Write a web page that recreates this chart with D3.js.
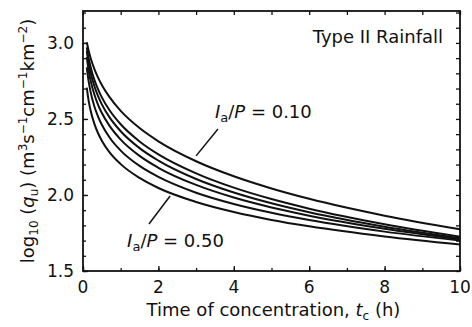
<!DOCTYPE html>
<html>
<head>
<meta charset="utf-8">
<script src="https://cdn.jsdelivr.net/npm/d3@7"></script>
<style>
  body { margin: 0; background: #fff; }
  svg text { font-family: "DejaVu Sans", sans-serif; fill: #111; }
</style>
</head>
<body>
<svg id="chart"></svg>
<script>
const width = 472;
const height = 327;

// time of concentration (h) where the curves were read
const tc = [0.1, 0.15, 0.2, 0.3, 0.4, 0.5, 0.7, 1, 1.5, 2, 3, 4, 5, 6, 8, 10];

// Ia/P ratios, one curve each (log10 qu)
const ratios = ["0.10", "0.30", "0.35", "0.40", "0.45", "0.50"];
const q010 = [3.004, 2.949, 2.903, 2.830, 2.772, 2.723, 2.645, 2.553, 2.440, 2.353, 2.222, 2.123, 2.043, 1.975, 1.864, 1.774];
const q030 = [2.971, 2.899, 2.844, 2.759, 2.695, 2.642, 2.559, 2.465, 2.352, 2.267, 2.142, 2.048, 1.973, 1.910, 1.808, 1.726];
const q035 = [2.947, 2.867, 2.806, 2.717, 2.650, 2.596, 2.512, 2.419, 2.308, 2.226, 2.105, 2.016, 1.945, 1.886, 1.791, 1.715];
const q040 = [2.907, 2.819, 2.755, 2.662, 2.593, 2.539, 2.456, 2.364, 2.257, 2.179, 2.066, 1.983, 1.918, 1.864, 1.778, 1.709];
const q045 = [2.840, 2.747, 2.680, 2.584, 2.516, 2.462, 2.380, 2.292, 2.191, 2.119, 2.015, 1.941, 1.883, 1.835, 1.759, 1.700];
const q050 = [2.706, 2.619, 2.557, 2.469, 2.406, 2.357, 2.282, 2.203, 2.112, 2.046, 1.954, 1.888, 1.836, 1.794, 1.727, 1.674];
const series = [q010, q030, q035, q040, q045, q050];

// tick labels
const xTicks = [0, 2, 4, 6, 8, 10];
const yTicks = [1.5, 2.0, 2.5, 3.0];

const margin = { top: 11, right: 12, bottom: 56, left: 83 };

const svg = d3.select("#chart").attr("width", width).attr("height", height);

const x = d3.scaleLinear().domain([0, 10]).range([margin.left, width - margin.right]);
const y = d3.scaleLinear().domain([1.5, 3.21]).range([height - margin.bottom, margin.top]);

const fs = 17;

// axes: ticks point inward
const xMinor = d3.range(0, 10.01, 1);
const yMinor = d3.range(1.5, 3.21, 0.1);

svg.append("g")
  .attr("transform", `translate(0,${y.range()[0]})`)
  .call(d3.axisTop(x).tickValues(xMinor).tickSize(3).tickFormat(""));
svg.append("g")
  .attr("transform", `translate(0,${y.range()[0]})`)
  .call(d3.axisTop(x).tickValues(xTicks).tickSize(5).tickFormat(""));
svg.append("g")
  .attr("transform", `translate(0,${y.range()[1]})`)
  .call(d3.axisBottom(x).tickValues(xMinor).tickSize(4).tickFormat(""));
svg.append("g")
  .attr("transform", `translate(${x.range()[0]},0)`)
  .call(d3.axisRight(y).tickValues(yMinor).tickSize(3).tickFormat(""));
svg.append("g")
  .attr("transform", `translate(${x.range()[0]},0)`)
  .call(d3.axisRight(y).tickValues(yTicks).tickSize(5).tickFormat(""));
svg.append("g")
  .attr("transform", `translate(${x.range()[1]},0)`)
  .call(d3.axisLeft(y).tickValues(yMinor).tickSize(4).tickFormat(""));

svg.selectAll(".domain").remove();
svg.selectAll(".tick line").attr("stroke", "#111").attr("stroke-width", 1.3);

// frame
svg.append("rect")
  .attr("x", x.range()[0])
  .attr("y", y.range()[1])
  .attr("width", x.range()[1] - x.range()[0])
  .attr("height", y.range()[0] - y.range()[1])
  .attr("fill", "none")
  .attr("stroke", "#111")
  .attr("stroke-width", 1.8);

// tick labels
svg.selectAll(".xlab").data(xTicks).join("text")
  .attr("x", d => x(d))
  .attr("y", y.range()[0] + 22)
  .attr("text-anchor", "middle")
  .attr("font-size", fs)
  .text(d => d);

svg.selectAll(".ylab").data(yTicks).join("text")
  .attr("x", x.range()[0] - 9)
  .attr("y", d => y(d) + 6)
  .attr("text-anchor", "end")
  .attr("font-size", fs)
  .text(d => d.toFixed(1));

// curves
const line = d3.line()
  .x((d, i) => x(tc[i]))
  .y(d => y(d))
  .curve(d3.curveMonotoneX);

svg.selectAll(".curve").data(series).join("path")
  .attr("d", line)
  .attr("fill", "none")
  .attr("stroke", "#111")
  .attr("stroke-width", 2);

// annotations
function ratioLabel(tx, ty, value) {
  const t = svg.append("text")
    .attr("x", x(tx))
    .attr("y", y(ty))
    .attr("font-size", 18);
  t.append("tspan").attr("font-style", "italic").text("I");
  t.append("tspan").attr("font-size", 13).attr("dy", 4).text("a");
  t.append("tspan").attr("dy", -4).text("/");
  t.append("tspan").attr("font-style", "italic").text("P");
  t.append("tspan").text(" = " + value);
}
ratioLabel(3.5, 2.507, ratios[0]);
ratioLabel(1.17, 1.658, ratios[5]);

const leaders = [
  [[3.58, 2.434], [3.0, 2.257]],
  [[1.75, 1.809], [2.31, 1.993]]
];
svg.selectAll(".leader").data(leaders).join("line")
  .attr("x1", d => x(d[0][0])).attr("y1", d => y(d[0][1]))
  .attr("x2", d => x(d[1][0])).attr("y2", d => y(d[1][1]))
  .attr("stroke", "#111")
  .attr("stroke-width", 1.5);

svg.append("text")
  .attr("x", x(9.55))
  .attr("y", y(3.0))
  .attr("text-anchor", "end")
  .attr("font-size", 18)
  .text("Type II Rainfall");

// axis titles
const xt = svg.append("text")
  .attr("x", (x.range()[0] + x.range()[1]) / 2 + 2)
  .attr("y", 316)
  .attr("text-anchor", "middle")
  .attr("font-size", 18);
xt.append("tspan").text("Time of concentration, ");
xt.append("tspan").attr("font-style", "italic").text("t");
xt.append("tspan").attr("font-size", 12).attr("dy", 4).text("c");
xt.append("tspan").attr("dy", -4).text(" (h)");

const yt = svg.append("text")
  .attr("transform", `translate(34,${(y.range()[0] + y.range()[1]) / 2}) rotate(-90)`)
  .attr("text-anchor", "middle")
  .attr("font-size", 18);
yt.append("tspan").text("log");
yt.append("tspan").attr("font-size", 12).attr("dy", 4).text("10");
yt.append("tspan").attr("dy", -4).text(" (");
yt.append("tspan").attr("font-style", "italic").text("q");
yt.append("tspan").attr("font-size", 12).attr("dy", 4).text("u");
yt.append("tspan").attr("dy", -4).text(") (m");
yt.append("tspan").attr("font-size", 12).attr("dy", -7).text("3");
yt.append("tspan").attr("dy", 7).text("s");
yt.append("tspan").attr("font-size", 12).attr("dy", -7).text("−1");
yt.append("tspan").attr("dy", 7).text("cm");
yt.append("tspan").attr("font-size", 12).attr("dy", -7).text("−1");
yt.append("tspan").attr("dy", 7).text("km");
yt.append("tspan").attr("font-size", 12).attr("dy", -7).text("−2");
yt.append("tspan").attr("dy", 7).text(")");
</script>
</body>
</html>
